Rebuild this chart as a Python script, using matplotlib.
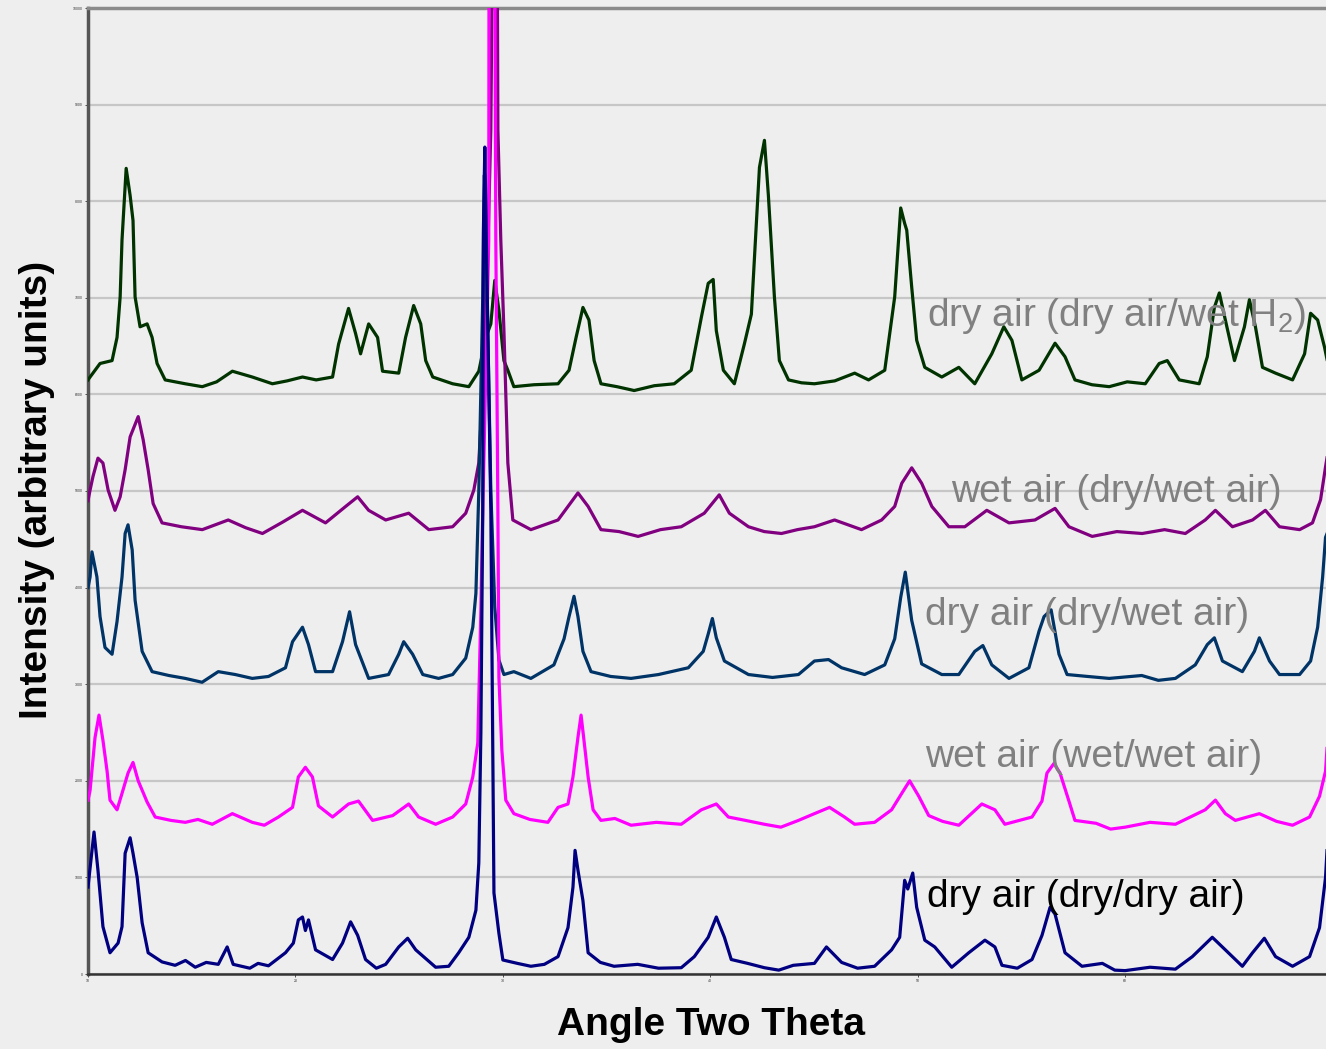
import matplotlib
matplotlib.use("Agg")
import matplotlib.pyplot as plt
import numpy as np

# XRD patterns, stacked with an offset. (two theta in degrees, counts)
dry_dry_air = [
    (10.00, 900), (10.29, 1470), (10.48, 1075), (10.72, 490), (11.06, 220), (11.45, 320),
    (11.64, 490), (11.79, 1250), (12.03, 1410), (12.17, 1250), (12.37, 1000), (12.61, 530),
    (12.90, 220), (13.57, 125), (14.20, 90), (14.70, 140), (15.17, 70), (15.70, 120),
    (16.28, 100), (16.71, 280), (17.00, 100), (17.80, 60), (18.20, 110), (18.70, 85),
    (19.52, 220), (19.90, 320), (20.14, 560), (20.34, 590), (20.48, 450), (20.63, 560),
    (20.97, 250), (21.79, 150), (22.27, 320), (22.66, 540), (23.00, 400), (23.38, 150),
    (23.90, 60), (24.35, 100), (24.98, 280), (25.41, 370), (25.80, 250), (26.76, 70),
    (27.39, 80), (27.87, 220), (28.36, 380), (28.70, 660), (28.84, 1150), (28.94, 2500),
    (29.03, 4800), (29.06, 7670), (29.13, 8560), (29.25, 7000), (29.42, 4800), (29.57, 840),
    (29.81, 420), (30.00, 145), (30.70, 110), (31.35, 80), (32.00, 100), (32.66, 180),
    (33.14, 480), (33.38, 900), (33.48, 1280), (33.62, 1075), (33.86, 760), (34.11, 220),
    (34.70, 120), (35.36, 80), (36.50, 100), (37.50, 60), (38.60, 65), (39.23, 180),
    (39.90, 380), (40.29, 590), (40.68, 380), (41.01, 150), (41.80, 110), (42.61, 65),
    (43.30, 40), (44.00, 90), (45.02, 110), (45.60, 280), (46.33, 120), (47.10, 60),
    (47.92, 80), (48.74, 250), (49.13, 380), (49.37, 970), (49.52, 880), (49.76, 1045),
    (49.95, 690), (50.34, 350), (50.82, 280), (51.64, 70), (52.46, 220), (53.24, 350),
    (53.72, 280), (54.06, 90), (54.80, 60), (55.51, 150), (55.99, 400), (56.38, 690),
    (56.62, 620), (57.10, 220), (57.92, 80), (58.90, 110), (59.50, 40), (60.00, 35),
    (61.20, 70), (62.42, 50), (63.24, 180), (64.20, 380), (64.83, 250), (65.65, 80),
    (66.14, 220), (66.71, 370), (67.25, 180), (68.07, 80), (68.89, 180), (69.37, 480),
    (69.66, 1000), (69.81, 1590),
]

wet_wet_air = [
    (10.00, 1800), (10.10, 1900), (10.34, 2450), (10.53, 2680), (10.72, 2420), (10.92, 2100),
    (11.06, 1800), (11.40, 1700), (11.64, 1870), (11.93, 2080), (12.17, 2190), (12.42, 2000),
    (12.85, 1780), (13.24, 1625), (14.00, 1590), (14.69, 1570), (15.30, 1600), (15.99, 1550),
    (16.96, 1660), (17.92, 1570), (18.50, 1540), (19.18, 1625), (19.86, 1725), (20.14, 2040),
    (20.48, 2140), (20.82, 2040), (21.11, 1740), (21.79, 1625), (22.56, 1760), (23.04, 1790),
    (23.72, 1590), (24.69, 1640), (25.46, 1760), (25.94, 1625), (26.76, 1550), (27.58, 1625),
    (28.21, 1760), (28.55, 2040), (28.79, 2390), (28.94, 3770), (29.03, 4800), (29.32, 7600),
    (29.33, 10000), (29.47, 20000), (29.62, 10000), (29.66, 7600), (29.76, 4800), (29.81, 3070),
    (29.95, 2320), (30.14, 1800), (30.53, 1660), (31.30, 1600), (32.17, 1570), (32.66, 1725),
    (33.14, 1760), (33.38, 2040), (33.62, 2450), (33.77, 2680), (33.91, 2420), (34.11, 2040),
    (34.35, 1700), (34.73, 1590), (35.40, 1610), (36.18, 1540), (37.40, 1570), (38.60, 1550),
    (39.57, 1700), (40.29, 1760), (40.87, 1625), (41.70, 1590), (42.61, 1550), (43.40, 1520),
    (44.25, 1590), (45.02, 1660), (45.75, 1725), (46.47, 1625), (46.96, 1550), (47.92, 1570),
    (48.74, 1700), (49.23, 1870), (49.61, 2000), (50.05, 1840), (50.53, 1640), (51.20, 1580),
    (51.98, 1540), (53.09, 1760), (53.72, 1700), (54.20, 1550), (55.51, 1625), (55.99, 1790),
    (56.23, 2080), (56.57, 2180), (56.86, 2080), (57.29, 1790), (57.58, 1590), (58.60, 1560),
    (59.30, 1500), (60.00, 1520), (61.20, 1570), (62.42, 1550), (63.86, 1700), (64.35, 1800),
    (64.83, 1660), (65.31, 1590), (66.47, 1660), (67.30, 1580), (68.07, 1540), (68.89, 1625),
    (69.37, 1840), (69.66, 2100), (69.81, 2600),
]

dry_drywet_air = [
    (10.00, 4000), (10.10, 4110), (10.19, 4370), (10.43, 4110), (10.58, 3700), (10.82, 3380),
    (11.16, 3310), (11.40, 3650), (11.64, 4110), (11.79, 4560), (11.93, 4650), (12.13, 4390),
    (12.27, 3870), (12.61, 3340), (13.09, 3130), (13.90, 3090), (14.69, 3060), (15.50, 3020),
    (16.28, 3130), (17.10, 3100), (17.92, 3060), (18.70, 3080), (19.52, 3170), (19.86, 3440),
    (20.34, 3590), (20.63, 3410), (20.97, 3130), (21.79, 3130), (22.27, 3440), (22.61, 3750),
    (22.90, 3410), (23.53, 3060), (24.49, 3100), (24.98, 3310), (25.22, 3440), (25.65, 3310),
    (26.14, 3100), (26.90, 3060), (27.58, 3100), (28.21, 3270), (28.55, 3590), (28.70, 3940),
    (28.84, 5000), (29.03, 7000), (29.11, 8270), (29.20, 7500), (29.42, 5000), (29.61, 3800),
    (29.81, 3250), (30.05, 3100), (30.53, 3130), (31.35, 3060), (32.46, 3200), (32.95, 3470),
    (33.19, 3700), (33.43, 3910), (33.62, 3700), (33.86, 3340), (34.25, 3130), (35.20, 3080),
    (36.18, 3060), (37.50, 3100), (38.94, 3170), (39.66, 3340), (39.90, 3520), (40.10, 3680),
    (40.29, 3480), (40.68, 3240), (41.84, 3100), (43.00, 3070), (44.25, 3100), (45.02, 3240),
    (45.70, 3255), (46.33, 3170), (47.44, 3100), (48.41, 3200), (48.89, 3470), (49.18, 3900),
    (49.40, 4160), (49.71, 3660), (50.19, 3210), (51.16, 3100), (51.98, 3100), (52.75, 3340),
    (53.14, 3400), (53.57, 3200), (54.40, 3060), (55.36, 3170), (55.85, 3550), (56.09, 3700),
    (56.43, 3770), (56.81, 3310), (57.20, 3100), (58.20, 3080), (59.23, 3060), (60.80, 3090),
    (61.60, 3040), (62.42, 3060), (63.38, 3200), (63.96, 3410), (64.30, 3480), (64.69, 3240),
    (65.65, 3130), (66.23, 3340), (66.47, 3480), (66.96, 3240), (67.44, 3100), (68.41, 3100),
    (68.94, 3240), (69.28, 3590), (69.52, 4110), (69.66, 4520), (69.81, 4600),
]

wet_drywet_air = [
    (10.00, 4900), (10.10, 5010), (10.24, 5150), (10.48, 5340), (10.72, 5290), (10.97, 5010),
    (11.30, 4800), (11.55, 4940), (11.79, 5220), (12.03, 5560), (12.42, 5770), (12.66, 5530),
    (12.90, 5220), (13.14, 4870), (13.57, 4670), (14.50, 4630), (15.51, 4600), (16.76, 4700),
    (17.60, 4620), (18.41, 4560), (19.40, 4680), (20.34, 4800), (21.45, 4670), (22.42, 4840),
    (23.00, 4940), (23.53, 4800), (24.35, 4700), (25.46, 4770), (26.43, 4600), (27.58, 4630),
    (28.21, 4770), (28.60, 5010), (28.84, 5290), (29.18, 6670), (29.42, 8740), (29.47, 10000),
    (29.60, 14000), (29.74, 10000), (29.76, 8740), (29.90, 7600), (30.05, 6670), (30.24, 5290),
    (30.48, 4700), (31.35, 4600), (32.66, 4700), (33.14, 4840), (33.62, 4980), (34.11, 4840),
    (34.73, 4600), (35.60, 4580), (36.52, 4530), (37.60, 4600), (38.60, 4630), (39.71, 4770),
    (40.43, 4960), (40.92, 4770), (41.84, 4630), (42.60, 4580), (43.43, 4560), (44.20, 4600),
    (45.02, 4630), (45.99, 4700), (47.29, 4600), (48.26, 4700), (48.89, 4840), (49.23, 5080),
    (49.71, 5240), (50.19, 5080), (50.68, 4840), (51.50, 4630), (52.27, 4630), (53.33, 4800),
    (54.40, 4670), (55.65, 4700), (56.62, 4820), (57.29, 4630), (58.41, 4530), (59.60, 4580),
    (60.82, 4560), (61.90, 4600), (62.90, 4560), (63.86, 4700), (64.35, 4800), (65.17, 4630),
    (66.14, 4700), (66.76, 4800), (67.44, 4630), (68.41, 4600), (69.03, 4670), (69.42, 4910),
    (69.66, 5250), (69.81, 5450),
]

dry_wet_h2 = [
    (10.00, 6150), (10.10, 6180), (10.58, 6320), (11.16, 6350), (11.40, 6590), (11.55, 7010),
    (11.64, 7600), (11.84, 8340), (12.03, 8060), (12.17, 7800), (12.27, 7010), (12.51, 6700),
    (12.85, 6730), (13.09, 6590), (13.33, 6320), (13.72, 6150), (14.69, 6110), (15.51, 6080),
    (16.20, 6130), (16.96, 6240), (17.92, 6180), (18.89, 6110), (19.60, 6140), (20.34, 6180),
    (21.00, 6150), (21.79, 6180), (22.08, 6520), (22.56, 6890), (22.90, 6630), (23.14, 6420),
    (23.53, 6730), (23.96, 6590), (24.20, 6240), (24.98, 6220), (25.31, 6590), (25.70, 6920),
    (26.04, 6730), (26.28, 6350), (26.62, 6180), (27.58, 6110), (28.36, 6080), (28.84, 6240),
    (29.18, 6590), (29.42, 6730), (29.61, 7180), (29.81, 6870), (30.05, 6350), (30.24, 6250),
    (30.53, 6080), (31.50, 6100), (32.66, 6110), (33.19, 6250), (33.53, 6590), (33.86, 6900),
    (34.15, 6770), (34.40, 6350), (34.73, 6110), (35.50, 6080), (36.33, 6040), (37.30, 6090),
    (38.26, 6110), (39.08, 6250), (39.57, 6800), (39.90, 7150), (40.14, 7190), (40.29, 6660),
    (40.63, 6250), (41.16, 6110), (41.64, 6520), (41.98, 6830), (42.22, 7770), (42.37, 8350),
    (42.61, 8630), (42.80, 8060), (42.95, 7520), (43.09, 7010), (43.33, 6350), (43.77, 6150),
    (44.40, 6120), (45.02, 6110), (46.00, 6140), (46.96, 6220), (47.63, 6150), (48.41, 6250),
    (48.89, 7010), (49.18, 7930), (49.37, 7770), (49.47, 7700), (49.71, 7110), (49.95, 6560),
    (50.34, 6280), (51.16, 6180), (51.98, 6280), (52.75, 6110), (53.57, 6420), (54.15, 6700),
    (54.54, 6560), (55.02, 6150), (55.85, 6250), (56.62, 6530), (57.10, 6390), (57.58, 6150),
    (58.40, 6100), (59.23, 6080), (60.10, 6130), (60.97, 6110), (61.64, 6320), (62.03, 6350),
    (62.61, 6150), (63.57, 6110), (63.96, 6390), (64.30, 6900), (64.54, 7050), (64.83, 6770),
    (65.27, 6350), (65.75, 6700), (65.99, 6980), (66.28, 6700), (66.62, 6280), (67.25, 6220),
    (68.07, 6150), (68.65, 6420), (68.94, 6840), (69.28, 6770), (69.61, 6490), (69.81, 6280),
]

x_ticks = [10, 20, 30, 40, 50, 60]
y_ticks = [0, 1000, 2000, 3000, 4000, 5000, 6000, 7000, 8000, 9000, 10000]

series = [
    (dry_wet_h2, "#003300", "dry air (dry air/wet H$_2$)", "#808080", 6810),
    (wet_drywet_air, "#800080", "wet air (dry/wet air)", "#808080", 4990),
    (dry_drywet_air, "#003366", "dry air (dry/wet air)", "#808080", 3715),
    (wet_wet_air, "#ff00ff", "wet air (wet/wet air)", "#808080", 2246),
    (dry_dry_air, "#000080", "dry air (dry/dry air)", "#000000", 797),
]
label_x = [50.43, 51.6, 50.33, 50.33, 50.43]

FONT = ["Liberation Sans Narrow", "Liberation Sans", "DejaVu Sans"]
plt.rcParams["font.family"] = FONT
plt.rcParams["mathtext.fontset"] = "custom"
plt.rcParams["mathtext.rm"] = "Liberation Sans"
plt.rcParams["mathtext.default"] = "regular"

bg = "#eeeeee"
fig = plt.figure(figsize=(13.26, 10.49), dpi=100, facecolor=bg)
ax = fig.add_axes([88 / 1326, 1 - 974 / 1049, 1 - 88 / 1326 + 0.002, (974 - 8) / 1049])
ax.set_facecolor(bg)

for data, color, label, tcolor, ty in series:
    arr = np.array(data, dtype=float)
    ax.plot(arr[:, 0], arr[:, 1], color=color, lw=2.3, zorder=3)

for (data, color, label, tcolor, ty), tx in zip(series, label_x):
    ax.text(tx, ty, label, color=tcolor, fontsize=28, ha="left", va="center", zorder=4)

ax.set_xlim(10, 69.81)
ax.set_ylim(0, 10000)
ax.set_xticks(x_ticks)
ax.set_yticks(y_ticks)
ax.set_xticklabels([str(v) for v in x_ticks])
ax.set_yticklabels([str(v) for v in y_ticks])
ax.tick_params(axis="both", labelsize=2.5, length=2.5, width=0.6, pad=1, colors="#333333")

ax.grid(axis="y", color="#c6c6c6", lw=1.6, zorder=1)
ax.hlines(y_ticks[1:-1], 10, 69.81, color="#e2e2e2", lw=0.4, zorder=1.5)

ax.spines["right"].set_visible(False)
ax.spines["top"].set_color("#8a8a8a")
ax.spines["top"].set_linewidth(2.5)
ax.spines["left"].set_color("#555555")
ax.spines["left"].set_linewidth(2.5)
ax.spines["bottom"].set_color("#333333")
ax.spines["bottom"].set_linewidth(1.8)

fig.text(37 / 1326, 1 - 490 / 1049, "Intensity (arbitrary units)", rotation=90,
         ha="center", va="center", fontsize=28, fontweight="bold", color="black")
fig.text(711 / 1326, 1 - 1025 / 1049, "Angle Two Theta", ha="center", va="center",
         fontsize=28, fontweight="bold", color="black")

fig.savefig("out.png", dpi=100, facecolor=bg)
